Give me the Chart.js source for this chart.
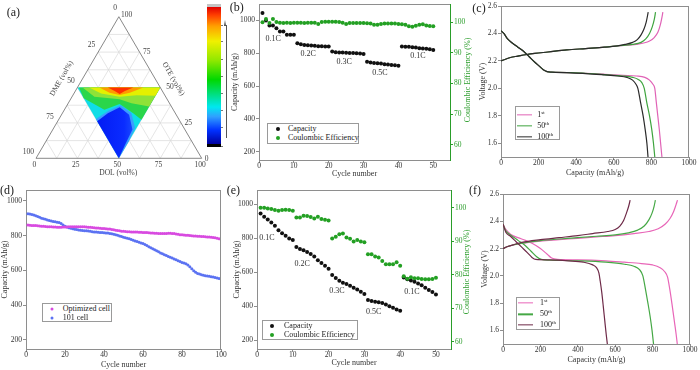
<!DOCTYPE html>
<html>
<head>
<meta charset="utf-8">
<script src="https://cdn.jsdelivr.net/npm/chart.js@4.4.1/dist/chart.umd.min.js"></script>
<style>
  html, body { margin: 0; padding: 0; background: #fff; }
  body { width: 700px; height: 370px; position: relative; overflow: hidden; font-family: 'Liberation Serif', serif; color: #222; }
  canvas { position: absolute; left: 0; top: 0; }
  .tag { position: absolute; font-size: 12px; transform: translate(-50%, -50%); white-space: nowrap; }
  .box { position: absolute; border: 1px solid #9a9a9a; background: #fff; box-sizing: border-box; }
  .t { position: absolute; font-size: 8px; transform: translateY(-50%); white-space: nowrap; line-height: 10px; }
  .t sup { font-size: 5px; vertical-align: 3px; line-height: 0; }
  .dot { position: absolute; width: 4px; height: 4px; border-radius: 50%; transform: translate(-50%, -50%); }
  .ln { position: absolute; height: 1.3px; transform: translateY(-50%); }
  .abs { position: absolute; }
</style>
</head>
<body>
<canvas id="ca" width="700" height="370"></canvas>
<canvas id="cb" width="700" height="370"></canvas>
<canvas id="cd" width="700" height="370"></canvas>
<canvas id="ce" width="700" height="370"></canvas>
<canvas id="cf" width="700" height="370"></canvas>
<canvas id="cc" width="700" height="370"></canvas>

<!-- colour bar of panel (a) -->
<div class="abs" style="left:207px;top:4px;width:13.6px;height:3.4px;background:#c4c4c4"></div>
<div class="abs" id="cbar" style="left:207px;top:7.3px;width:13.6px;height:137px"></div>
<div class="abs" style="left:207px;top:144.3px;width:13.6px;height:2.4px;background:#000"></div>
<div class="abs" id="cbticks" style="left:0;top:0"></div>
<div class="abs" style="left:225.6px;top:25px;width:0.8px;height:113px;background:#555"></div>
<div class="abs" style="left:224.2px;top:20px;width:0;height:0;border-left:1.8px solid transparent;border-right:1.8px solid transparent;border-bottom:6px solid #444"></div>

<!-- panel tags -->
<div class="tag" style="left:13.3px;top:11.7px">(a)</div>
<div class="tag" style="left:236.7px;top:7px">(b)</div>
<div class="tag" style="left:479px;top:7.5px">(c)</div>
<div class="tag" style="left:7px;top:190px">(d)</div>
<div class="tag" style="left:233.3px;top:190px">(e)</div>
<div class="tag" style="left:475px;top:190px">(f)</div>

<!-- legends -->
<div class="box" style="left:267px;top:123px;width:92px;height:21px"></div>
<div class="dot" style="left:277.5px;top:128.5px;background:#111"></div>
<div class="t" style="left:288px;top:128.5px">Capacity</div>
<div class="dot" style="left:277.5px;top:138.3px;background:#23a023"></div>
<div class="t" style="left:288px;top:138.3px">Coulombic Efficiency</div>

<div class="box" style="left:515px;top:106px;width:45px;height:34px"></div>
<div class="ln" style="left:516.7px;top:115px;width:15px;background:#e063b6"></div>
<div class="t" style="left:537.3px;top:115px">1<sup>st</sup></div>
<div class="ln" style="left:516.7px;top:126px;width:15px;background:#3ea43e"></div>
<div class="t" style="left:537.3px;top:126px">50<sup>th</sup></div>
<div class="ln" style="left:516.7px;top:136.7px;width:15px;background:#2a2a2a"></div>
<div class="t" style="left:537.3px;top:136.7px">100<sup>th</sup></div>

<div class="box" style="left:41.7px;top:303.3px;width:70px;height:18.4px"></div>
<div class="dot" style="left:51.7px;top:309.3px;width:3px;height:3px;background:#d84ae0"></div>
<div class="t" style="left:62.7px;top:309.3px">Optimized cell</div>
<div class="dot" style="left:51.7px;top:318px;width:3px;height:3px;background:#5b72f2"></div>
<div class="t" style="left:62.7px;top:318px">101 cell</div>

<div class="box" style="left:262px;top:320px;width:96px;height:20px"></div>
<div class="dot" style="left:271.7px;top:325.5px;background:#111"></div>
<div class="t" style="left:284px;top:325.5px">Capacity</div>
<div class="dot" style="left:271.7px;top:335.3px;background:#23a023"></div>
<div class="t" style="left:284px;top:335.3px">Coulombic Efficiency</div>

<div class="box" style="left:516px;top:296.7px;width:44px;height:33.3px"></div>
<div class="ln" style="left:518.3px;top:302.7px;width:15px;background:#e866b8"></div>
<div class="t" style="left:540px;top:302.7px">1<sup>st</sup></div>
<div class="ln" style="left:518.3px;top:314.3px;width:15px;background:#45a845"></div>
<div class="t" style="left:540px;top:314.3px">50<sup>th</sup></div>
<div class="ln" style="left:518.3px;top:325px;width:15px;background:#6e2a48"></div>
<div class="t" style="left:540px;top:325px">100<sup>th</sup></div>

<script>
// ---------------- data ----------------
// (a) ternary: grid levels (vol%) and contour bands as [DOL, OTE] vol% pairs
const ternGrid = [12.5, 25, 37.5, 50, 62.5, 75, 87.5];
const ternTicks = [0, 25, 50, 75, 100];
const bandBase = [[0, 50], [50, 50], [50, 0]];
const bandLightBlue = [[22.3, 27.7], [27, 33.5], [32.4, 37.5], [41.5, 32], [49, 21.5], [50, 12], [50, 0]];
const bandBlue = [[23.8, 26.2], [27.4, 31.9], [32.5, 36.1], [40.8, 30.8], [48, 20.4], [49.1, 8.8], [50, 0]];
const bandGreen = [[1, 50], [7.6, 42.4], [24.1, 34.3], [31.3, 38.4], [42.7, 31.9], [50, 27.3], [50, 50]];
const bandLightGreen = [[3.1, 50], [13.5, 43.5], [23.2, 42.4], [29.6, 41.7], [38.2, 38.9], [50, 36.6], [50, 50]];
const bandYellow = [[7.1, 50], [16.4, 45.8], [28.7, 43.5], [38.4, 44.6], [50, 44.2], [50, 50]];
const bandOrange = [[13.3, 50], [21.2, 46.3], [28.1, 44.7], [33.5, 46.3], [39.8, 50]];
const bandRed = [[18.4, 50], [23.7, 47.5], [27.8, 45.4], [29.9, 47.5], [33.7, 50]];
const cbStops = [[0, '#0000a0'], [0.1, '#0030ff'], [0.2, '#30a0ff'], [0.27, '#00e8f0'], [0.35, '#00e090'],
  [0.47, '#00d800'], [0.61, '#90e800'], [0.75, '#f0f000'], [0.86, '#ffa000'], [0.94, '#ff4000'], [1, '#e00000']];

// (b) rate test, cycles 1-50
const cycles50 = Array.from({ length: 50 }, (_, i) => i + 1);
const bCap = [1045, 1000, 969, 969, 953, 933, 933, 912, 912, 912,
  861, 855, 851, 849, 847, 845, 843, 843, 841, 841,
  810, 806, 805, 804, 803, 802, 801, 800, 799, 796,
  749, 743, 741, 739, 737, 733, 731, 729, 727, 724,
  841, 839, 839, 837, 835, 831, 829, 827, 825, 820];
const bCE = [100.0, 101.1, 99.8, 101.1, 100.1, 99.9, 99.8, 99.9, 99.8, 99.9,
  99.9, 99.9, 99.8, 99.9, 99.9, 99.9, 99.5, 100.1, 100.2, 100.2,
  100.2, 100.2, 100.1, 99.9, 99.5, 99.8, 99.8, 99.8, 99.8, 99.8,
  99.7, 99.6, 99.2, 99.2, 99.5, 99.6, 99.6, 99.6, 99.6, 99.5,
  99.4, 99.2, 98.7, 98.6, 98.9, 99.2, 99.4, 99.0, 98.8, 98.7];
const bRates = [['0.1C', 4.1, 888], ['0.2C', 14.1, 797], ['0.3C', 24.4, 747], ['0.5C', 34.7, 683], ['0.1C', 45.6, 782]];

// (e) rate test of the reference cell
const eCap = [947, 928, 912, 894, 875, 849, 830, 816, 800, 791,
  750, 738, 730, 721, 708, 694, 672, 656, 640, 622,
  585, 568, 552, 540, 532, 522, 510, 500, 487, 473,
  438, 432, 428, 425, 420, 412, 402, 392, 383, 375,
  570, 560, 553, 545, 535, 525, 510, 497, 485, 470];
const eCE = [100.0, 100.0, 99.8, 99.6, 99.3, 99.1, 99.3, 99.4, 99.3, 99.1,
  97.1, 97.1, 97.6, 97.5, 97.2, 96.8, 97.3, 96.6, 96.4, 96.2,
  90.8, 91.3, 92.1, 92.3, 91.1, 90.7, 89.9, 90.4, 89.9, 89.7,
  86.1, 86.1, 85.4, 85.1, 84.1, 83.1, 83.1, 83.1, 83.7, 82.7,
  79.5, 78.8, 79.2, 78.9, 78.9, 78.7, 78.6, 78.6, 78.7, 79.1];
const eRates = [['0.1C', 2.8, 804], ['0.2C', 12.6, 648], ['0.3C', 22.3, 491], ['0.5C', 32.6, 370], ['0.1C', 43.3, 484]];

// (d) cycling, cycles 1-100
const cycles100 = Array.from({ length: 100 }, (_, i) => i + 1);
const dOptimized = [861, 860, 859, 858, 858, 857, 856, 855, 854, 853,
  852, 851, 851, 850, 850, 849, 849, 849, 850, 850,
  850, 851, 851, 851, 852, 852, 852, 852, 851, 851,
  850, 849, 848, 847, 846, 845, 844, 843, 842, 841,
  840, 839, 838, 836, 834, 832, 830, 828, 826, 825,
  824, 823, 823, 822, 822, 821, 821, 820, 820, 819,
  818, 818, 817, 816, 815, 814, 814, 813, 812, 812,
  813, 813, 814, 814, 813, 812, 810, 808, 806, 805,
  804, 803, 802, 801, 800, 799, 798, 797, 797, 796,
  795, 794, 793, 792, 791, 790, 788, 786, 783, 780];
const d101 = [927, 925, 922, 919, 915, 911, 906, 901, 897, 894,
  890, 887, 884, 882, 880, 878, 876, 870, 862, 854,
  850, 846, 843, 840, 837, 835, 833, 831, 830, 829,
  828, 827, 825, 823, 822, 821, 820, 819, 818, 817,
  816, 815, 813, 811, 808, 805, 802, 799, 795, 791,
  788, 785, 782, 778, 774, 770, 766, 762, 758, 755,
  750, 744, 737, 731, 725, 719, 713, 707, 701, 696,
  691, 686, 681, 676, 671, 666, 661, 656, 651, 646,
  643, 639, 632, 622, 610, 598, 589, 583, 579, 575,
  572, 570, 568, 566, 564, 562, 559, 557, 554, 551];

// (c) voltage profiles [capacity mAh/g, voltage V]
const cDis1 = [[0, 2.42], [15, 2.4], [35, 2.36], [60, 2.33], [90, 2.3], [120, 2.27], [150, 2.23], [180, 2.19], [205, 2.16], [225, 2.135], [245, 2.122], [270, 2.118], [350, 2.115], [450, 2.11], [550, 2.103], [650, 2.095], [720, 2.09], [765, 2.08], [790, 2.06], [808, 2.03], [818, 2.0], [826, 1.9], [834, 1.8], [842, 1.7], [849, 1.6], [856, 1.5]];
const cDis50 = [[0, 2.42], [15, 2.4], [35, 2.36], [60, 2.33], [90, 2.3], [120, 2.27], [150, 2.23], [180, 2.19], [205, 2.16], [225, 2.135], [245, 2.122], [270, 2.118], [350, 2.115], [450, 2.11], [550, 2.1], [650, 2.09], [700, 2.08], [730, 2.065], [750, 2.04], [762, 2.0], [775, 1.9], [790, 1.8], [802, 1.7], [811, 1.6], [818, 1.5]];
const cDis100 = [[0, 2.42], [15, 2.4], [35, 2.36], [60, 2.33], [90, 2.3], [120, 2.27], [150, 2.23], [180, 2.19], [205, 2.16], [225, 2.135], [245, 2.122], [270, 2.118], [350, 2.114], [450, 2.108], [550, 2.098], [620, 2.09], [670, 2.08], [700, 2.06], [718, 2.03], [728, 2.0], [742, 1.9], [756, 1.8], [767, 1.7], [776, 1.6], [782, 1.5]];
const cChg1 = [[0, 2.2], [20, 2.21], [50, 2.225], [90, 2.235], [130, 2.245], [180, 2.255], [250, 2.265], [350, 2.28], [450, 2.29], [550, 2.3], [620, 2.31], [720, 2.32], [790, 2.345], [815, 2.37], [835, 2.41], [847, 2.46], [855, 2.51], [861, 2.555]];
const cChg50 = [[0, 2.2], [20, 2.21], [50, 2.225], [90, 2.235], [130, 2.245], [180, 2.255], [250, 2.265], [350, 2.28], [450, 2.29], [550, 2.3], [620, 2.31], [700, 2.32], [745, 2.335], [770, 2.36], [790, 2.4], [805, 2.45], [815, 2.5], [822, 2.555]];
const cChg100 = [[0, 2.2], [20, 2.21], [50, 2.225], [90, 2.235], [130, 2.245], [180, 2.255], [250, 2.265], [350, 2.28], [450, 2.29], [550, 2.3], [620, 2.31], [660, 2.32], [700, 2.335], [725, 2.355], [745, 2.39], [760, 2.43], [772, 2.48], [783, 2.555]];

// (f) voltage profiles of the reference cell
const fDis1 = [[0, 2.38], [15, 2.34], [40, 2.305], [80, 2.28], [120, 2.26], [160, 2.235], [200, 2.2], [235, 2.16], [260, 2.13], [290, 2.12], [400, 2.117], [550, 2.11], [650, 2.1], [740, 2.09], [800, 2.08], [840, 2.06], [865, 2.03], [880, 1.99], [892, 1.9], [905, 1.78], [917, 1.66], [926, 1.57], [932, 1.5]];
const fDis50 = [[0, 2.38], [15, 2.33], [40, 2.3], [80, 2.26], [120, 2.22], [150, 2.18], [180, 2.14], [205, 2.12], [250, 2.115], [400, 2.11], [550, 2.1], [650, 2.085], [700, 2.07], [730, 2.045], [748, 2.0], [762, 1.9], [775, 1.8], [787, 1.7], [797, 1.6], [805, 1.5]];
const fDis100 = [[0, 2.38], [15, 2.32], [40, 2.29], [70, 2.25], [100, 2.21], [130, 2.17], [155, 2.135], [175, 2.12], [250, 2.117], [350, 2.11], [430, 2.1], [480, 2.08], [500, 2.06], [513, 2.02], [520, 1.96], [528, 1.88], [536, 1.78], [545, 1.66], [552, 1.57], [558, 1.5]];
const fChg1 = [[0, 2.2], [25, 2.215], [60, 2.228], [100, 2.238], [200, 2.255], [300, 2.265], [400, 2.275], [500, 2.285], [600, 2.295], [700, 2.31], [780, 2.325], [830, 2.345], [868, 2.38], [893, 2.42], [912, 2.47], [925, 2.52], [933, 2.555]];
const fChg50 = [[0, 2.2], [25, 2.215], [60, 2.228], [100, 2.24], [200, 2.258], [300, 2.27], [400, 2.28], [500, 2.29], [600, 2.3], [670, 2.315], [720, 2.335], [755, 2.365], [780, 2.41], [797, 2.46], [808, 2.51], [815, 2.555]];
const fChg100 = [[0, 2.2], [25, 2.215], [60, 2.23], [100, 2.245], [200, 2.265], [300, 2.28], [400, 2.295], [480, 2.31], [560, 2.325], [600, 2.34], [625, 2.365], [645, 2.405], [660, 2.46], [672, 2.51], [680, 2.555]];

// tick labels
const capTicks = [200, 400, 600, 800, 1000];
const ceTicks = [60, 70, 80, 90, 100];
const cyc50Ticks = [0, 10, 20, 30, 40, 50];
const cyc100Ticks = [0, 20, 40, 60, 80, 100];
const voltTicks = [1.6, 1.8, 2.0, 2.2, 2.4, 2.6];
const specCapTicks = [0, 200, 400, 600, 800, 1000];

// ---------------- drawing ----------------
Chart.defaults.font.family = "'Liberation Serif', 'Times New Roman', serif";
Chart.defaults.color = '#333';
const GREY = '#8e8e8e', TXT = '#333', GREEN = '#2a9d2a';
const FONT = "'Liberation Serif', serif";

// frame on top/right and free text (data or pixel positions)
const deco = {
  id: 'deco',
  afterDraw(chart, args, o) {
    const { ctx, chartArea: a } = chart;
    ctx.save();
    if (o.frame) {
      ctx.strokeStyle = GREY; ctx.lineWidth = 1;
      ctx.beginPath();
      ctx.moveTo(a.left, Math.round(a.top) + 0.5); ctx.lineTo(a.right, Math.round(a.top) + 0.5);
      if (o.frame === 'tr') { ctx.moveTo(Math.round(a.right) - 0.5, a.top); ctx.lineTo(Math.round(a.right) - 0.5, a.bottom); }
      ctx.stroke();
    }
    (o.notes || []).forEach(n => {
      const px = n.px !== undefined ? n.px : chart.scales[n.xa || 'x'].getPixelForValue(n.x);
      const py = n.py !== undefined ? n.py : chart.scales[n.ya || 'y'].getPixelForValue(n.y);
      ctx.save();
      ctx.translate(px, py);
      if (n.rot) ctx.rotate(n.rot * Math.PI / 180);
      ctx.font = (n.size || 8) + 'px ' + FONT;
      ctx.fillStyle = n.color || TXT;
      ctx.textAlign = 'center'; ctx.textBaseline = 'middle';
      ctx.fillText(n.text, 0, 0);
      ctx.restore();
    });
    ctx.restore();
  }
};

function axis(pos, min, max, ticks, title, size, opt = {}) {
  const line = opt.line || GREY, text = opt.text || TXT;
  return {
    type: 'linear', position: pos, min, max,
    afterBuildTicks: s => { s.ticks = ticks.map(v => ({ value: v })); },
    afterFit: s => {
      if (pos === 'bottom') s.height = size; else s.width = size;
      s.paddingTop = 0; s.paddingBottom = 0; s.paddingLeft = 0; s.paddingRight = 0;
    },
    grid: { drawOnChartArea: false, tickLength: 3, color: line, tickColor: line },
    border: { color: line, width: 1 },
    ticks: {
      color: text, font: { size: 7.5 }, padding: pos === 'bottom' ? -1 : 1, maxRotation: 0, autoSkip: false,
      callback: opt.fmt || (v => String(v))
    },
    title: { display: !!title, text: title, color: text, font: { size: 8 }, padding: 0 }
  };
}

function panel(id, pad, scales, datasets, decoOpts) {
  return new Chart(document.getElementById(id), {
    type: 'scatter',
    data: { datasets },
    options: {
      responsive: false, animation: false, devicePixelRatio: 1, events: [],
      layout: { padding: pad },
      scales,
      plugins: { legend: { display: false }, tooltip: { enabled: false }, deco: decoOpts }
    },
    plugins: [deco]
  });
}

const pts = (xs, ys) => xs.map((x, i) => ({ x, y: ys[i] }));
const dots = (xs, ys, color, r, axisId) => ({ data: pts(xs, ys), yAxisID: axisId || 'y', backgroundColor: color, borderWidth: 0, pointRadius: r });
const curve = (arr, color) => ({ data: arr.map(p => ({ x: p[0], y: p[1] })), showLine: true, borderColor: color, borderWidth: 1.2, pointRadius: 0, cubicInterpolationMode: 'monotone' });
const rateNotes = list => list.map(r => ({ text: r[0], x: r[1], y: r[2], size: 8 }));

// (b)
panel('cb', { left: 230, top: 3, right: 227, bottom: 191 }, {
  x: axis('bottom', 0, 54.8, cyc50Ticks, 'Cycle number', 19),
  y: axis('left', 150, 1100, capTicks, 'Capacity (mAh/g)', 29),
  y1: axis('right', 55, 106, ceTicks, '', 23, { line: GREEN, text: GREEN })
}, [dots(cycles50, bCE, '#23a023', 2, 'y1'), dots(cycles50, bCap, '#111', 2)],
  { frame: 't', notes: rateNotes(bRates).concat([{ text: 'Coulombic Efficiency (%)', px: 468, py: 80, rot: -90, color: GREEN }]) });

// (e)
panel('ce', { left: 232, top: 190, right: 228.5, bottom: 2.5 }, {
  x: axis('bottom', 0, 54.2, cyc50Ticks, 'Cycle number', 18.5),
  y: axis('left', 150, 1085, capTicks, 'Capacity (mAh/g)', 25),
  y1: axis('right', 57.8, 105.3, ceTicks, '', 20.5, { line: GREEN, text: GREEN })
}, [dots(cycles50, eCE, '#23a023', 2, 'y1'), dots(cycles50, eCap, '#111', 2)],
  { frame: 't', notes: rateNotes(eRates).concat([{ text: 'Coulombic Efficiency (%)', px: 466.5, py: 272, rot: -90, color: GREEN }]) });

// (d)
panel('cd', { left: 0, top: 190, right: 479, bottom: 0 }, {
  x: axis('bottom', 0, 100, cyc100Ticks, 'Cycle number', 21),
  y: axis('left', 148, 1063, capTicks, 'Capacity (mAh/g)', 26)
}, [dots(cycles100, dOptimized, '#d84ae0', 1.5), dots(cycles100, d101, '#5b72f2', 1.5)], { frame: 'tr' });

// (c)
const vfmt = v => v.toFixed(1);
panel('cc', { left: 478.5, top: 6, right: 11, bottom: 192 }, {
  x: axis('bottom', 0, 1000, specCapTicks, 'Capacity (mAh/g)', 21),
  y: axis('left', 1.5, 2.6, voltTicks, 'Voltage (V)', 22.5, { fmt: vfmt })
}, [curve(cDis100, '#2a2a2a'), curve(cChg100, '#2a2a2a'), curve(cDis50, '#3ea43e'), curve(cChg50, '#3ea43e'),
  curve(cDis1, '#e063b6'), curve(cChg1, '#e063b6')], { frame: 'tr' });

// (f)
panel('cf', { left: 480.2, top: 194, right: 10, bottom: 5.2 }, {
  x: axis('bottom', 0, 1000, specCapTicks, 'Capacity (mAh/g)', 20.8),
  y: axis('left', 1.5, 2.6, voltTicks, 'Voltage (V)', 22.8, { fmt: vfmt })
}, [curve(fDis100, '#6e2a48'), curve(fChg100, '#6e2a48'), curve(fDis50, '#45a845'), curve(fChg50, '#45a845'),
  curve(fDis1, '#e866b8'), curve(fChg1, '#e866b8')], { frame: 'tr' });

// (a) ternary diagram on a plain x/y scatter; chart area covers the whole canvas
const tern = (dol, ote) => ({ x: dol / 100 + ote / 200, y: ote / 100 * 0.866 });
const layers = [];
ternGrid.forEach(v => {
  [[tern(0, v), tern(100 - v, v)], [tern(v, 0), tern(v, 100 - v)], [tern(100 - v, 0), tern(0, 100 - v)]]
    .forEach(seg => layers.push({ data: seg, showLine: true, borderColor: '#dadada', borderWidth: 0.7, pointRadius: 0 }));
});
const blueGrad = c => {
  const ch = c.chart;
  if (!ch.chartArea) return '#0a28f5';
  const xs = ch.scales.x;
  const g = ch.ctx.createLinearGradient(xs.getPixelForValue(0.3), 0, xs.getPixelForValue(0.72), 0);
  g.addColorStop(0, '#0014ee'); g.addColorStop(0.55, '#0a2cff'); g.addColorStop(1, '#3c90ff');
  return g;
};
[[bandBase, '#10dde6'], [bandLightBlue, '#3a9cff'], [bandBlue, blueGrad], [bandGreen, '#2ad64a'],
 [bandLightGreen, '#8ee238'], [bandYellow, '#e4f000'], [bandOrange, '#ff9a00'], [bandRed, '#ff3000']]
  .forEach(([b, col]) => layers.push({ data: b.map(p => tern(p[0], p[1])), showLine: true, fill: 'shape', backgroundColor: col, borderWidth: 0, pointRadius: 0 }));
layers.push({ data: [tern(0, 0), tern(100, 0), tern(0, 100), tern(0, 0)], showLine: true, borderColor: '#7a7a7a', borderWidth: 0.9, pointRadius: 0 });

const ternNotes = [
  { text: '0', x: 0.477, y: 0.917 }, { text: '100', x: 0.547, y: 0.877 },
  { text: '25', x: 0.335, y: 0.693 }, { text: '50', x: 0.211, y: 0.473 }, { text: '75', x: 0.0845, y: 0.2526 }, { text: '100', x: -0.0465, y: 0.0404 },
  { text: '75', x: 0.668, y: 0.652 }, { text: '50', x: 0.809, y: 0.433 }, { text: '25', x: 0.919, y: 0.214 }, { text: '0', x: 1.03, y: -0.006 },
  { text: 'DOL (vol%)', x: 0.4967, y: -0.088 },
  { text: 'DME (vol%)', x: 0.155, y: 0.489, rot: -60 },
  { text: 'OTE (vol%)', x: 0.8286, y: 0.485, rot: 60 }
].concat(ternTicks.map(v => ({ text: String(v), x: tern(v, 0).x - 0.01, y: -0.041 })));
ternNotes.forEach(n => { n.size = n.size || 7.5; n.color = '#444'; });

new Chart(document.getElementById('ca'), {
  type: 'scatter',
  data: { datasets: layers.reverse() },
  options: {
    responsive: false, animation: false, devicePixelRatio: 1, events: [],
    layout: { padding: 0 },
    scales: {
      x: { type: 'linear', display: false, min: -0.21726, max: 4.00724 },
      y: { type: 'linear', display: false, min: -1.2948, max: 0.9682 }
    },
    plugins: { legend: { display: false }, tooltip: { enabled: false }, deco: { notes: ternNotes } }
  },
  plugins: [deco]
});

// colour bar fill and its tick marks
document.getElementById('cbar').style.background =
  'linear-gradient(to top,' + cbStops.map(s => s[1] + ' ' + (s[0] * 100) + '%').join(',') + ')';
const cbTickY = [25, 41.7, 59.3, 76, 93.3, 110.7, 127.7, 146];
document.getElementById('cbticks').innerHTML = cbTickY
  .map(y => '<div class="abs" style="left:220.6px;top:' + (y - 0.4) + 'px;width:2.4px;height:0.8px;background:#777"></div>').join('');
</script>
</body>
</html>
